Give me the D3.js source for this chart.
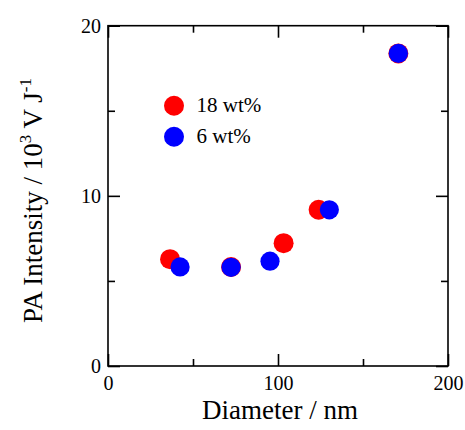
<!DOCTYPE html>
<html>
<head>
<meta charset="utf-8">
<script src="https://cdn.jsdelivr.net/npm/d3@7"></script>
<style>
  html, body { margin: 0; padding: 0; background: #fff; }
  svg { display: block; }
</style>
</head>
<body>
<svg id="chart" width="465" height="430"></svg>
<script>
// Data
const series18x = [36.5, 72.4, 103.3, 123.9, 170.8];
const series18y = [6.28, 5.82, 7.22, 9.18, 18.37];
const series6x  = [42.4, 72.4, 95.3, 130.2, 170.8];
const series6y  = [5.82, 5.80, 6.16, 9.18, 18.37];
const seriesNames = ["18 wt%", "6 wt%"];
const seriesColors = ["#ff0000", "#0000ff"];
const xTicks = [0, 100, 200];
const xMinorTicks = [50, 150];
const yTicks = [0, 10, 20];
const yMinorTicks = [5, 15];

const FONT = "'Liberation Serif', 'Times New Roman', Times, serif";
const svg = d3.select("#chart");
const L = 108, R = 448, T = 25.7, B = 366;
const x = d3.scaleLinear().domain([0, 200]).range([L, R]);
const y = d3.scaleLinear().domain([0, 20]).range([B, T]);

const g = svg.append("g");

// Frame
g.append("rect").attr("x", L).attr("y", T).attr("width", R - L).attr("height", B - T)
  .attr("fill", "none").attr("stroke", "#000").attr("stroke-width", 1.6);

const major = 12, minor = 7;
const gxb = g.append("g").attr("transform", `translate(0,${B})`)
  .call(d3.axisBottom(x).tickValues(xTicks).tickSize(-major).tickPadding(10).tickFormat(d3.format("d")));
const gxbm = g.append("g").attr("transform", `translate(0,${B})`)
  .call(d3.axisBottom(x).tickValues(xMinorTicks).tickSize(-minor).tickFormat(""));
const gxt = g.append("g").attr("transform", `translate(0,${T})`)
  .call(d3.axisTop(x).tickValues(xTicks).tickSize(-major).tickFormat(""));
const gxtm = g.append("g").attr("transform", `translate(0,${T})`)
  .call(d3.axisTop(x).tickValues(xMinorTicks).tickSize(-minor).tickFormat(""));
const gyl = g.append("g").attr("transform", `translate(${L},0)`)
  .call(d3.axisLeft(y).tickValues(yTicks).tickSize(-major).tickPadding(7).tickFormat(d3.format("d")));
const gylm = g.append("g").attr("transform", `translate(${L},0)`)
  .call(d3.axisLeft(y).tickValues(yMinorTicks).tickSize(-minor).tickFormat(""));
const gyr = g.append("g").attr("transform", `translate(${R},0)`)
  .call(d3.axisRight(y).tickValues(yTicks).tickSize(-major).tickFormat(""));
const gyrm = g.append("g").attr("transform", `translate(${R},0)`)
  .call(d3.axisRight(y).tickValues(yMinorTicks).tickSize(-minor).tickFormat(""));

[gxb, gxbm, gxt, gxtm, gyl, gylm, gyr, gyrm].forEach(a => {
  a.attr("font-family", null).attr("font-size", null);
  a.select(".domain").remove();
  a.selectAll(".tick line").attr("stroke", "#000").attr("stroke-width", 1.6);
  a.selectAll(".tick text").style("font-family", FONT).style("font-size", "20px").attr("fill", "#000");
});

// Points
const d18 = series18x.map((v, i) => ({x: v, y: series18y[i]}));
const d6 = series6x.map((v, i) => ({x: v, y: series6y[i]}));
const r = 10;
g.append("g").selectAll("circle").data(d18).join("circle")
  .attr("cx", d => x(d.x)).attr("cy", d => y(d.y)).attr("r", r).attr("fill", seriesColors[0]);
g.append("g").selectAll("circle").data(d6).join("circle")
  .attr("cx", d => x(d.x)).attr("cy", d => y(d.y)).attr("r", r - 0.4).attr("fill", seriesColors[1]);

// Legend
const legY = [105.7, 136.7];
seriesNames.forEach((name, i) => {
  g.append("circle").attr("cx", 174).attr("cy", legY[i]).attr("r", r).attr("fill", seriesColors[i]);
  g.append("text").attr("x", 196.5).attr("y", legY[i] + 6.5)
    .style("font-family", FONT).style("font-size", "21px").attr("fill", "#000").text(name);
});

// Axis titles
svg.append("text").attr("x", (L + R) / 2 + 2).attr("y", 419).attr("text-anchor", "middle")
  .style("font-family", FONT).style("font-size", "27px").attr("fill", "#000").text("Diameter / nm");

const yt = svg.append("text").attr("transform", `translate(41.5,200.5) rotate(-90)`)
  .attr("text-anchor", "middle").style("font-family", FONT).style("font-size", "27px").attr("fill", "#000");
yt.append("tspan").text("PA Intensity / 10");
yt.append("tspan").style("font-size", "17px").attr("dy", -11).text("3");
yt.append("tspan").attr("dy", 11).text(" V J");
yt.append("tspan").style("font-size", "17px").attr("dy", -11).text("-1");
</script>
</body>
</html>
